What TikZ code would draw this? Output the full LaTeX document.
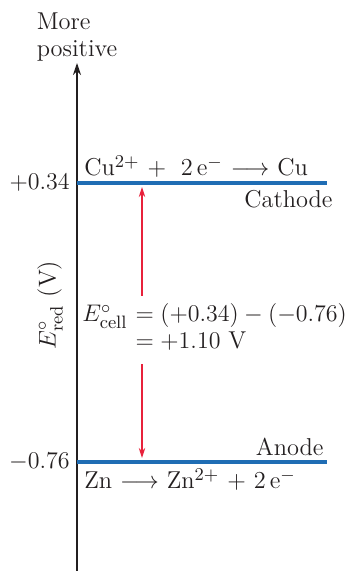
\documentclass[tikz,border=0pt]{standalone}
\usepackage{xcolor}
\usepackage{tikz}
\usetikzlibrary{arrows.meta, positioning, calc}
\definecolor{levelblue}{HTML}{1F6DB4}
\definecolor{cellred}{HTML}{E8213B}
\definecolor{ink}{HTML}{231F20}

\begin{document}
\begin{tikzpicture}[x=0.5pt, y=-0.5pt,
  level/.style={draw=levelblue, line width=2pt},
  cellarrow/.style={draw=cellred, line width=0.6pt, -{Stealth[length=5pt, width=3.2pt]}},
  txt/.style={font=\fontsize{12.2}{13.5}\selectfont, text=ink, inner sep=1.5pt}
]
\useasboundingbox (0,0) rectangle (355,571);

% vertical axis
\coordinate (ybot) at (77,571);
\coordinate (ytop) at (77,63);
\draw[ink, line width=0.7pt, -{Stealth[length=6pt, width=4pt]}] (ybot) -- (ytop);
\node[txt, align=left, above=-1pt of ytop] (more) {More\\positive};
\node[txt, rotate=90] (ylabel) at (50,305) {$E^\circ_{\mathrm{red}}$ (V)};

% levels
\coordinate (cu0) at (77,183);
\coordinate (cu1) at (327,183);
\coordinate (zn0) at (77,462);
\coordinate (zn1) at (327,462);
\draw[level] (cu0) -- (cu1);
\draw[level] (zn0) -- (zn1);
\node[txt, left=2pt of cu0] (cuval) {$+0.34$};
\node[txt, left=2pt of zn0] (znval) {$-0.76$};

\node[txt, anchor=south west] (cureact) at ($(cu0)+(4,-2)$) {Cu$^{2+}$ + \;2\,e$^-$ $\longrightarrow$ Cu};
\node[txt, anchor=north east] (cathode) at ($(cu1)+(9,4)$) {Cathode};
\node[txt, anchor=south east] (anode) at ($(zn1)+(0,-3)$) {Anode};
\node[txt, anchor=north west] (znreact) at ($(zn0)+(4,3)$) {Zn $\longrightarrow$ Zn$^{2+}$ + 2\,e$^-$};

% cell potential
\coordinate (rtop) at (142,187);
\coordinate (rbot) at (142,458);
\node[txt, anchor=west] (ecell) at (79,330) {\begin{tabular}{@{}l@{\hspace{4pt}}l@{}}
$E^\circ_{\mathrm{cell}}$ & $= (+0.34) - (-0.76)$\\
 & $= +1.10$ V
\end{tabular}};
\draw[cellarrow] (ecell.north -| rtop) ++(0,-4) -- (rtop);
\draw[cellarrow] (ecell.south -| rbot) ++(0,4) -- (rbot);
\end{tikzpicture}
\end{document}
